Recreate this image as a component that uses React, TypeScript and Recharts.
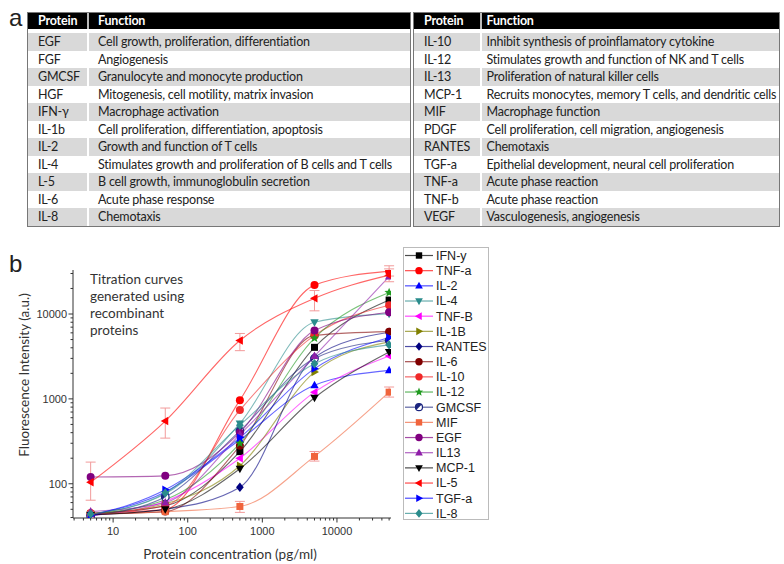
import React from 'react';
import { LineChart, Line, XAxis, YAxis, ErrorBar } from 'recharts';

// ---------------- Table (panel a) ----------------
const LEFT_PROTEINS = ['EGF', 'FGF', 'GMCSF', 'HGF', 'IFN-γ', 'IL-1b', 'IL-2', 'IL-4', 'L-5', 'IL-6', 'IL-8'];
const LEFT_FUNCTIONS = [
  'Cell growth, proliferation, differentiation',
  'Angiogenesis',
  'Granulocyte and monocyte production',
  'Mitogenesis, cell motility, matrix invasion',
  'Macrophage activation',
  'Cell proliferation, differentiation, apoptosis',
  'Growth and function of T cells',
  'Stimulates growth and proliferation of B cells and T cells',
  'B cell growth, immunoglobulin secretion',
  'Acute phase response',
  'Chemotaxis',
];
const RIGHT_PROTEINS = ['IL-10', 'IL-12', 'IL-13', 'MCP-1', 'MIF', 'PDGF', 'RANTES', 'TGF-a', 'TNF-a', 'TNF-b', 'VEGF'];
const RIGHT_FUNCTIONS = [
  'Inhibit synthesis of proinflamatory cytokine',
  'Stimulates growth and function of NK and T cells',
  'Proliferation of natural killer cells',
  'Recruits monocytes, memory T cells, and dendritic cells',
  'Macrophage function',
  'Cell proliferation, cell migration, angiogenesis',
  'Chemotaxis',
  'Epithelial development, neural cell proliferation',
  'Acute phase reaction',
  'Acute phase reaction',
  'Vasculogenesis, angiogenesis',
];

// ---------------- Chart data (panel b) ----------------
const CONCENTRATIONS = [5, 50, 500, 5000, 50000];

const IFN_Y = [44, 55, 239, 4050, 14600];
const TNF_A = [45, 50, 966, 21900, 32000];
const IL_2 = [43, 80, 330, 1450, 2170];
const IL_4 = [44, 76, 514, 8000, 10100];
const TNF_B = [42, 62, 200, 1200, 3200];
const IL_1B = [44, 58, 163, 2070, 4700];
const RANTES = [43, 50, 91, 3100, 6100];
const IL_6 = [44, 47, 280, 5600, 6200];
const IL_10 = [45, 55, 738, 5600, 12700];
const IL_12 = [44, 65, 300, 5200, 17900];
const GMCSF = [42, 70, 420, 3000, 4900];
const MIF = [44, 47, 54, 210, 1200];
const EGF = [120, 124, 400, 6400, 10500];
const IL13 = [47, 60, 380, 3200, 27600];
const MCP_1 = [43, 50, 150, 1030, 3570];
const IL_5 = [104, 548, 4870, 15300, 28700];
const TGF_A = [42, 85, 350, 2270, 5300];
const IL_8 = [44, 78, 490, 2600, 4330];

const IL_5_ERR = [[40, 76], [203, 232], [1170, 1030], [4400, 3600], [4700, 5300]];
const TNF_A_ERR = [null, null, null, null, [4000, 5000]];
const MIF_ERR = [null, null, [8, 8], [25, 30], [150, 180]];

const SERIES_NAMES = ['IFN-y', 'TNF-a', 'IL-2', 'IL-4', 'TNF-B', 'IL-1B', 'RANTES', 'IL-6', 'IL-10', 'IL-12', 'GMCSF', 'MIF', 'EGF', 'IL13', 'MCP-1', 'IL-5', 'TGF-a', 'IL-8'];
const SERIES_VALUES = [IFN_Y, TNF_A, IL_2, IL_4, TNF_B, IL_1B, RANTES, IL_6, IL_10, IL_12, GMCSF, MIF, EGF, IL13, MCP_1, IL_5, TGF_A, IL_8];

const X_TICKS = [3, 4, 5, 6, 7, 8, 9, 10, 20, 30, 40, 50, 60, 70, 80, 90, 100, 200, 300, 400, 500, 600, 700, 800, 900, 1000, 2000, 3000, 4000, 5000, 6000, 7000, 8000, 9000, 10000, 20000, 30000, 40000, 50000];
const X_LABELED = [10, 100, 1000, 10000];
const Y_TICKS = [40, 50, 60, 70, 80, 90, 100, 200, 300, 400, 500, 600, 700, 800, 900, 1000, 2000, 3000, 4000, 5000, 6000, 7000, 8000, 9000, 10000, 20000, 30000];
const Y_LABELED = [100, 1000, 10000];

// styles per series (same order as SERIES_NAMES)
const STYLES = [
  { color: '#000000', shape: 'square' },
  { color: '#ff0000', shape: 'circle' },
  { color: '#0000ff', shape: 'up' },
  { color: '#2a8c8c', shape: 'down' },
  { color: '#ff00ff', shape: 'left' },
  { color: '#808000', shape: 'right' },
  { color: '#000080', shape: 'diamond' },
  { color: '#800000', shape: 'circle' },
  { color: '#f02828', shape: 'circle' },
  { color: '#1f9a1f', shape: 'star' },
  { color: '#1a237e', shape: 'half' },
  { color: '#f0643c', shape: 'square' },
  { color: '#800080', shape: 'circle' },
  { color: '#8e1ea8', shape: 'up' },
  { color: '#000000', shape: 'down' },
  { color: '#ff0000', shape: 'left' },
  { color: '#0000ff', shape: 'right' },
  { color: '#2a8c8c', shape: 'diamond' },
];

const SERIES = SERIES_NAMES.map((name, i) => ({ key: 's' + i, name, values: SERIES_VALUES[i], ...STYLES[i] }));

const ROWS = CONCENTRATIONS.map((x, i) => {
  const row: any = { x };
  SERIES.forEach((s) => { row[s.key] = s.values[i]; });
  row.il5Err = IL_5_ERR[i] || undefined;
  row.tnfaErr = TNF_A_ERR[i] || undefined;
  row.mifErr = MIF_ERR[i] || undefined;
  return row;
});

const ERR_KEYS: Record<string, string> = { 'IL-5': 'il5Err', 'TNF-a': 'tnfaErr', MIF: 'mifErr' };

function Marker({ shape, cx, cy, color, s = 3.5 }: any) {
  if (cx == null || cy == null) return null;
  switch (shape) {
    case 'square':
      return <rect x={cx - s} y={cy - s} width={2 * s} height={2 * s} fill={color} />;
    case 'circle':
      return <circle cx={cx} cy={cy} r={s + 0.5} fill={color} />;
    case 'up':
      return <polygon points={`${cx},${cy - s * 1.3} ${cx - s * 1.2},${cy + s * 0.85} ${cx + s * 1.2},${cy + s * 0.85}`} fill={color} />;
    case 'down':
      return <polygon points={`${cx},${cy + s * 1.3} ${cx - s * 1.2},${cy - s * 0.85} ${cx + s * 1.2},${cy - s * 0.85}`} fill={color} />;
    case 'left':
      return <polygon points={`${cx - s * 1.3},${cy} ${cx + s * 0.85},${cy - s * 1.2} ${cx + s * 0.85},${cy + s * 1.2}`} fill={color} />;
    case 'right':
      return <polygon points={`${cx + s * 1.3},${cy} ${cx - s * 0.85},${cy - s * 1.2} ${cx - s * 0.85},${cy + s * 1.2}`} fill={color} />;
    case 'diamond':
      return <polygon points={`${cx},${cy - s * 1.35} ${cx + s * 1.1},${cy} ${cx},${cy + s * 1.35} ${cx - s * 1.1},${cy}`} fill={color} />;
    case 'star': {
      const pts: string[] = [];
      for (let k = 0; k < 10; k++) {
        const r = k % 2 === 0 ? s * 1.4 : s * 0.6;
        const a = -Math.PI / 2 + (k * Math.PI) / 5;
        pts.push(`${cx + r * Math.cos(a)},${cy + r * Math.sin(a)}`);
      }
      return <polygon points={pts.join(' ')} fill={color} />;
    }
    case 'half': {
      const r = s + 0.3;
      return (
        <g>
          <circle cx={cx} cy={cy} r={r} fill="#ffffff" stroke={color} strokeWidth={1.2} />
          <path d={`M ${cx - r} ${cy} A ${r} ${r} 0 0 1 ${cx + r} ${cy} Z`} fill={color} transform={`rotate(-45 ${cx} ${cy})`} />
        </g>
      );
    }
    default:
      return null;
  }
}

const TICK_FONT = '"Liberation Sans", Arial, sans-serif';
const TEXT_FONT = 'Lato, "Open Sans", sans-serif';

const XTick = (props: any) => {
  const { x, y, payload } = props;
  const v = payload.value;
  const major = X_LABELED.includes(v);
  return (
    <g>
      <line x1={x} x2={x} y1={y} y2={y + (major ? 4.5 : 2.5)} stroke="#333" strokeWidth={1} />
      {major && (
        <text x={x} y={y + 17} textAnchor="middle" fontSize={11} fill="#333" fontFamily={TICK_FONT}>
          {v}
        </text>
      )}
    </g>
  );
};

const YTick = (props: any) => {
  const { x, y, payload } = props;
  const v = payload.value;
  const major = Y_LABELED.includes(v);
  return (
    <g>
      <line x1={x - (major ? 4.5 : 2.5)} x2={x} y1={y} y2={y} stroke="#333" strokeWidth={1} />
      {major && (
        <text x={x - 6} y={y + 4} textAnchor="end" fontSize={11} fill="#333" fontFamily={TICK_FONT}>
          {v}
        </text>
      )}
    </g>
  );
};

function ProteinTable({ left, width, protW, funcPad, proteins, functions }: any) {
  const top = 12;
  return (
    <div
      style={{
        position: 'absolute',
        left,
        top,
        width,
        height: 215,
        border: '1px solid #777',
        boxSizing: 'border-box',
        fontFamily: TEXT_FONT,
        fontSize: 12.5,
        letterSpacing: '-0.2px',
        color: '#222',
      }}
    >
      <div style={{ position: 'absolute', left: 0, top: 0, right: 0, height: 15.5, background: '#000' }}>
        <div style={{ position: 'absolute', left: 10, top: 0, lineHeight: '15.5px', color: '#fff', fontWeight: 700 }}>Protein</div>
        <div style={{ position: 'absolute', left: protW, top: 0, width: 1.5, height: 15.5, background: '#bbb' }} />
        <div style={{ position: 'absolute', left: protW + 1.5 + funcPad, top: 0, lineHeight: '15.5px', color: '#fff', fontWeight: 700 }}>Function</div>
      </div>
      {proteins.map((p: string, i: number) => (
        <div key={p + i} style={{ position: 'absolute', left: 0, right: 0, top: 20.3 + i * 17.5, height: 17.5 }}>
          <div
            style={{
              position: 'absolute',
              left: 0,
              width: protW,
              top: 0,
              bottom: 0,
              background: i % 2 === 0 ? '#d9d9d9' : '#fff',
              lineHeight: '17.5px',
              paddingLeft: 10,
              boxSizing: 'border-box',
            }}
          >
            {p}
          </div>
          <div
            style={{
              position: 'absolute',
              left: protW + 1.5,
              right: 0,
              top: 0,
              bottom: 0,
              background: i % 2 === 0 ? '#d9d9d9' : '#fff',
              lineHeight: '17.5px',
              paddingLeft: funcPad,
              boxSizing: 'border-box',
              whiteSpace: 'nowrap',
            }}
          >
            {functions[i]}
          </div>
        </div>
      ))}
    </div>
  );
}

function ChartLegend() {
  const step = 15.17;
  return (
    <svg
      width={86}
      height={273}
      style={{ position: 'absolute', left: 403, top: 247 }}
    >
      <rect x={0.5} y={0.5} width={85} height={272} fill="#fff" stroke="#bbb" />
      {SERIES.map((s, i) => {
        const cy = 8.5 + i * step;
        return (
          <g key={s.key}>
            <line x1={2} x2={30} y1={cy} y2={cy} stroke={s.color} strokeOpacity={0.7} strokeWidth={1.2} />
            <Marker shape={s.shape} cx={16} cy={cy} color={s.color} s={3.2} />
            <text x={33} y={cy + 4.4} fontSize={12.5} fill="#222" fontFamily={TICK_FONT}>
              {s.name}
            </text>
          </g>
        );
      })}
    </svg>
  );
}

export default function App() {
  return (
    <div style={{ position: 'absolute', left: 0, top: 0, width: 784, height: 564, background: '#fff', overflow: 'hidden' }}>
      {/* panel a */}
      <div style={{ position: 'absolute', left: 9, top: 4, fontSize: 24, fontFamily: TICK_FONT, color: '#222', lineHeight: '28px' }}>a</div>
      <ProteinTable left={27} width={384} protW={59} funcPad={9.5} proteins={LEFT_PROTEINS} functions={LEFT_FUNCTIONS} />
      <ProteinTable left={413} width={367} protW={66} funcPad={5} proteins={RIGHT_PROTEINS} functions={RIGHT_FUNCTIONS} />

      {/* panel b */}
      <div style={{ position: 'absolute', left: 9, top: 250, fontSize: 24, fontFamily: TICK_FONT, color: '#222', lineHeight: '28px' }}>b</div>
      <div style={{ position: 'absolute', left: 0, top: 240 }}>
        <LineChart width={400} height={324} data={ROWS} margin={{ top: 30, right: 9, bottom: 0, left: 0 }}>
          <XAxis
            dataKey="x"
            type="number"
            scale="log"
            domain={[2.9, 53000]}
            allowDataOverflow
            ticks={X_TICKS}
            interval={0}
            tickSize={0}
            tickMargin={0}
            tick={<XTick />}
            height={46}
            stroke="#333"
          />
          <YAxis
            type="number"
            scale="log"
            domain={[39.5, 33000]}
            allowDataOverflow
            ticks={Y_TICKS}
            interval={0}
            tickSize={0}
            tickMargin={0}
            tick={<YTick />}
            width={73}
            stroke="#333"
          />
          {SERIES.map((s) => (
            <Line
              key={s.key}
              dataKey={s.key}
              name={s.name}
              type="monotone"
              stroke={s.color}
              strokeOpacity={0.6}
              strokeWidth={1.1}
              isAnimationActive={false}
              activeDot={false}
              dot={(p: any) => <Marker key={s.key + '-' + p.index} shape={s.shape} cx={p.cx} cy={p.cy} color={s.color} />}
            >
              {ERR_KEYS[s.name] ? (
                <ErrorBar dataKey={ERR_KEYS[s.name]} direction="y" width={5} stroke="#f29a9a" strokeWidth={1} />
              ) : null}
            </Line>
          ))}
        </LineChart>
      </div>
      <svg width={784} height={564} style={{ position: 'absolute', left: 0, top: 0, pointerEvents: 'none' }}>
        <text x={29} y={375} transform="rotate(-90 29 375)" textAnchor="middle" fontSize={13.5} fill="#333" fontFamily={TEXT_FONT}>
          Fluorescence Intensity (a.u.)
        </text>
        <text x={230} y={559} textAnchor="middle" fontSize={13.5} fill="#333" fontFamily={TEXT_FONT}>
          Protein concentration (pg/ml)
        </text>
        <g fontSize={13.5} fill="#333" fontFamily={TEXT_FONT}>
          <text x={90} y={284}>Titration curves</text>
          <text x={90} y={301}>generated using</text>
          <text x={90} y={318}>recombinant</text>
          <text x={90} y={335}>proteins</text>
        </g>
      </svg>
      <ChartLegend />
    </div>
  );
}
